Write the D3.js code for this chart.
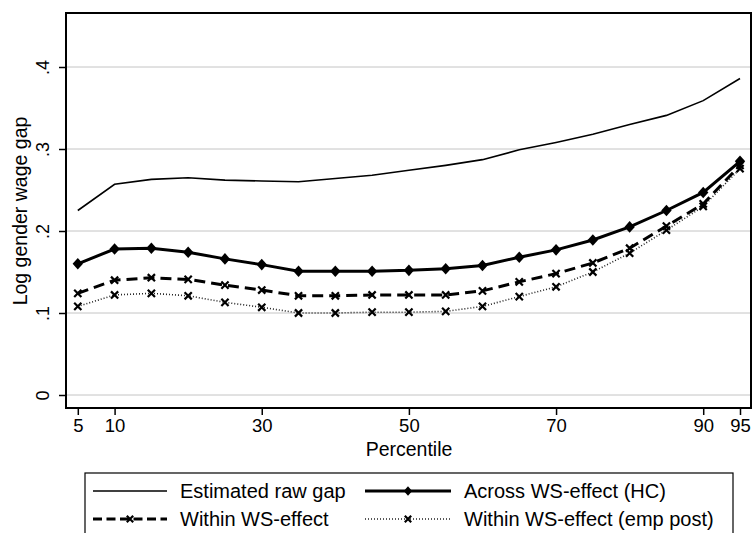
<!DOCTYPE html>
<html><head><meta charset="utf-8">
<script src="https://cdn.jsdelivr.net/npm/d3@7"></script>
<style>body{margin:0;background:#fff}svg{display:block}text{font-family:"Liberation Sans",Arial,sans-serif;fill:#000}</style>
</head><body>
<svg id="c" width="753" height="533"></svg>
<script>
const percentiles = [5,10,15,20,25,30,35,40,45,50,55,60,65,70,75,80,85,90,95];
const rawGap     = [0.225,0.257,0.263,0.265,0.262,0.261,0.260,0.264,0.268,0.274,0.280,0.287,0.299,0.308,0.318,0.330,0.341,0.359,0.386];
const acrossHC   = [0.160,0.178,0.179,0.174,0.166,0.159,0.151,0.151,0.151,0.152,0.154,0.158,0.168,0.177,0.189,0.205,0.225,0.247,0.285];
const withinWS   = [0.124,0.140,0.143,0.141,0.134,0.128,0.121,0.121,0.122,0.122,0.122,0.127,0.138,0.148,0.161,0.179,0.206,0.233,0.280];
const withinEmp  = [0.108,0.122,0.124,0.121,0.113,0.107,0.100,0.100,0.101,0.101,0.102,0.108,0.120,0.132,0.150,0.173,0.201,0.230,0.276];
const xTicks = [5,10,30,50,70,90,95];
const yTicks = [0,0.1,0.2,0.3,0.4];
const yTickLabels = ["0",".1",".2",".3",".4"];
const legendLabels = ["Estimated raw gap","Across WS-effect (HC)","Within WS-effect","Within WS-effect (emp post)"];

const svg = d3.select("#c");
const L = 66, R = 751, T = 13, B = 408;
const x = d3.scaleLinear().domain([5,95]).range([77.8,740]);
const y = d3.scaleLinear().domain([0,0.4]).range([395,67]);

// gridlines
svg.append("g").selectAll("line").data(yTicks).join("line")
  .attr("x1",L).attr("x2",R).attr("y1",d=>y(d)).attr("y2",d=>y(d))
  .attr("stroke","#c4c4c4").attr("stroke-width",1);

// axes
const yAxis = svg.append("g").attr("transform",`translate(${L},0)`)
  .call(d3.axisLeft(y).tickValues(yTicks).tickSize(7).tickFormat((d,i)=>yTickLabels[i]));
yAxis.select(".domain").remove();
yAxis.selectAll("line").attr("stroke","#000").attr("stroke-width",1.5);
yAxis.selectAll("text").attr("font-size",18).attr("text-anchor","middle")
  .attr("x",0).attr("dy",0)
  .attr("transform",d=>`translate(-17,0) rotate(-90)`);

const xAxis = svg.append("g").attr("transform",`translate(0,${B})`)
  .call(d3.axisBottom(x).tickValues(xTicks).tickSize(7).tickFormat(d3.format("d")));
xAxis.select(".domain").remove();
xAxis.selectAll("line").attr("stroke","#000").attr("stroke-width",1.5);
xAxis.selectAll("text").attr("font-size",18.5).attr("y",11);

// frame
svg.append("rect").attr("x",L).attr("y",T).attr("width",R-L).attr("height",B-T)
  .attr("fill","none").attr("stroke","#000").attr("stroke-width",2);

// titles
svg.append("text").attr("x",409).attr("y",456).attr("text-anchor","middle").attr("font-size",19.5).text("Percentile");
svg.append("text").attr("transform","translate(27,211) rotate(-90)").attr("text-anchor","middle").attr("font-size",19.5).text("Log gender wage gap");

const diamond = {draw(ctx,size){const w=5.2,h=5.8;ctx.moveTo(0,-h);ctx.lineTo(w,0);ctx.lineTo(0,h);ctx.lineTo(-w,0);ctx.closePath();}};

function line(vals){return d3.line().x((d,i)=>x(percentiles[i])).y(d=>y(d))(vals);}
function drawX(g, cx, cy, s, sw){
  g.append("path").attr("d",`M${cx-s},${cy-s}L${cx+s},${cy+s}M${cx-s},${cy+s}L${cx+s},${cy-s}`)
   .attr("stroke","#000").attr("stroke-width",sw).attr("fill","none");
}

const plot = svg.append("g");
plot.append("path").attr("d",line(rawGap)).attr("fill","none").attr("stroke","#000").attr("stroke-width",1.6);
plot.append("path").attr("d",line(withinEmp)).attr("fill","none").attr("stroke","#222").attr("stroke-width",1.6).attr("stroke-dasharray","1 2");
withinEmp.forEach((v,i)=>drawX(plot,x(percentiles[i]),y(v),3.6,2.2));
plot.append("path").attr("d",line(withinWS)).attr("fill","none").attr("stroke","#000").attr("stroke-width",3).attr("stroke-dasharray","11 6");
withinWS.forEach((v,i)=>drawX(plot,x(percentiles[i]),y(v),3.6,2.2));
plot.append("path").attr("d",line(acrossHC)).attr("fill","none").attr("stroke","#000").attr("stroke-width",3);
plot.selectAll(".dm").data(acrossHC).join("path")
  .attr("d",d3.symbol().type(diamond)())
  .attr("transform",(d,i)=>`translate(${x(percentiles[i])},${y(d)})`).attr("fill","#000");

// legend
const lg = svg.append("g");
lg.append("rect").attr("x",85).attr("y",473).attr("width",648).attr("height",70).attr("fill","#fff").attr("stroke","#000").attr("stroke-width",1.2);
const rows=[491,519];
const c1=[93,167], c2=[365,451];
lg.append("line").attr("x1",c1[0]).attr("x2",c1[1]).attr("y1",rows[0]).attr("y2",rows[0]).attr("stroke","#000").attr("stroke-width",1.6);
lg.append("line").attr("x1",c2[0]).attr("x2",c2[1]).attr("y1",rows[0]).attr("y2",rows[0]).attr("stroke","#000").attr("stroke-width",3);
lg.append("path").attr("d",d3.symbol().type(diamond)()).attr("transform",`translate(${(c2[0]+c2[1])/2},${rows[0]}) scale(0.8)`);
lg.append("line").attr("x1",c1[0]).attr("x2",c1[1]).attr("y1",rows[1]).attr("y2",rows[1]).attr("stroke","#000").attr("stroke-width",3).attr("stroke-dasharray","9 4.5");
drawX(lg,(c1[0]+c1[1])/2,rows[1],3.2,2.2);
lg.append("line").attr("x1",c2[0]).attr("x2",c2[1]).attr("y1",rows[1]).attr("y2",rows[1]).attr("stroke","#222").attr("stroke-width",1.6).attr("stroke-dasharray","1 2");
drawX(lg,(c2[0]+c2[1])/2,rows[1],3.2,2.2);
const tpos=[[180,rows[0]],[464,rows[0]],[180,rows[1]],[464,rows[1]]];
lg.selectAll("text.l").data(legendLabels).join("text").attr("class","l")
  .attr("x",(d,i)=>tpos[i][0]).attr("y",(d,i)=>tpos[i][1]).attr("dy","0.35em")
  .attr("font-size",20).text(d=>d);
</script>
</body></html>
